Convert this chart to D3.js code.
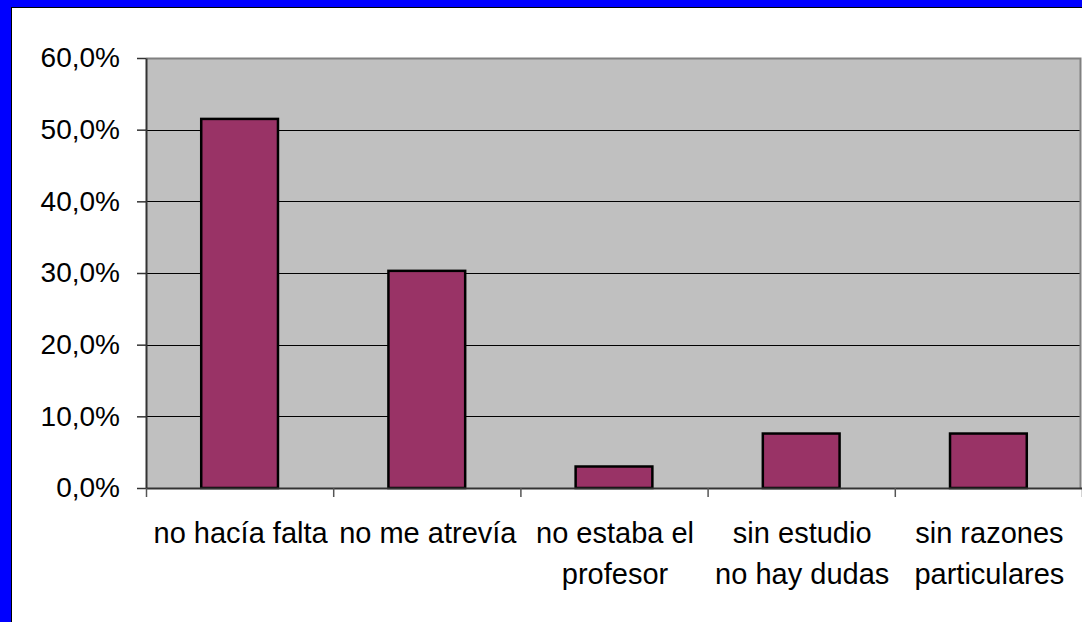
<!DOCTYPE html>
<html>
<head>
<meta charset="utf-8">
<script src="https://cdn.jsdelivr.net/npm/d3@7"></script>
<style>
  html, body { margin: 0; padding: 0; background: #0000ff; overflow: hidden; }
  svg { display: block; }
  text { font-family: "Liberation Sans", Arial, sans-serif; fill: #000; }
</style>
</head>
<body>
<div id="chart"></div>
<script>
var categories = [
    ["no hacía falta"],
    ["no me atrevía"],
    ["no estaba el", "profesor"],
    ["sin estudio", "no hay dudas"],
    ["sin razones", "particulares"]
];
var values = [0.515, 0.303, 0.030, 0.076, 0.076];
var yTicks = [0, 0.1, 0.2, 0.3, 0.4, 0.5, 0.6];

var W = 1082, H = 622;
var margin = { top: 58, right: 1, bottom: 134, left: 146 },
    width = W - margin.left - margin.right,
    height = H - margin.top - margin.bottom;

var locale = d3.formatLocale({ decimal: ",", thousands: ".", grouping: [3], currency: ["", "€"] });
var pct = locale.format(".1%");

var svg = d3.select("#chart").append("svg")
    .attr("width", W)
    .attr("height", H);

// white chart area with black edge, blue frame shows round it
svg.append("rect")
    .attr("x", 11.5).attr("y", 7.5)
    .attr("width", W + 10).attr("height", H + 10)
    .attr("fill", "#fff")
    .attr("stroke", "#000")
    .attr("stroke-width", 1);

var g = svg.append("g")
    .attr("transform", "translate(" + margin.left + "," + margin.top + ")");

var xScale = d3.scaleBand()
    .domain(d3.range(categories.length))
    .range([0, width + 1]);
var yScale = d3.scaleLinear().domain([0, 0.6]).range([height, 0]);

// plot background
g.append("rect")
    .attr("width", width).attr("height", height)
    .attr("fill", "#c0c0c0");

// gridlines
g.selectAll(".grid")
    .data(yTicks.slice(1, -1))
    .enter().append("line")
    .attr("x1", 0).attr("x2", width)
    .attr("y1", function (d) { return Math.round(yScale(d)) + 0.5; })
    .attr("y2", function (d) { return Math.round(yScale(d)) + 0.5; })
    .attr("stroke", "#000")
    .attr("stroke-width", 1);

// top and right frame
g.append("path")
    .attr("d", "M0,0.5H" + (width - 0.5) + "V" + height)
    .attr("fill", "none")
    .attr("stroke", "#808080")
    .attr("stroke-width", 2);

// bars
var bw = xScale.bandwidth() * 0.41;
g.selectAll(".bar")
    .data(values)
    .enter().append("rect")
    .attr("class", "bar")
    .attr("x", function (d, i) { return xScale(i) + (xScale.bandwidth() - bw) / 2; })
    .attr("y", function (d) { return yScale(d); })
    .attr("width", bw)
    .attr("height", function (d) { return height - yScale(d); })
    .attr("fill", "#993366")
    .attr("stroke", "#000")
    .attr("stroke-width", 2.5);

// y axis
var yAxis = d3.axisLeft(yScale)
    .tickValues(yTicks)
    .tickFormat(pct)
    .tickSizeInner(9)
    .tickSizeOuter(0)
    .tickPadding(17);

var ya = g.append("g").call(yAxis);
ya.select(".domain").attr("stroke", "#333").attr("stroke-width", 2);
ya.selectAll(".tick line").attr("stroke", "#333").attr("stroke-width", 1.5);
ya.selectAll("text")
    .attr("font-family", "Liberation Sans, Arial, sans-serif")
    .attr("font-size", 28)
    .attr("fill", "#000");

// x axis: ticks at category boundaries
var edge = d3.scaleLinear().domain([0, categories.length]).range([0, width + 1]);
var xAxis = d3.axisBottom(edge)
    .tickValues(d3.range(categories.length + 1))
    .tickFormat("")
    .tickSizeInner(9)
    .tickSizeOuter(0);

var xa = g.append("g")
    .attr("transform", "translate(0," + height + ")")
    .call(xAxis);
xa.select(".domain").attr("stroke", "#333").attr("stroke-width", 2);
xa.selectAll(".tick line").attr("stroke", "#555").attr("stroke-width", 1.5);

// category labels
var labels = g.selectAll(".cat")
    .data(categories)
    .enter().append("text")
    .attr("class", "cat")
    .attr("text-anchor", "middle")
    .attr("font-size", 29)
    .attr("transform", function (d, i) {
        return "translate(" + (xScale(i) + xScale.bandwidth() / 2 + 1) + "," + (height + 55) + ")";
    });

labels.selectAll("tspan")
    .data(function (d) { return d; })
    .enter().append("tspan")
    .attr("x", 0)
    .attr("dy", function (d, i) { return i === 0 ? 0 : 41; })
    .text(function (d) { return d; });
</script>
</body>
</html>
